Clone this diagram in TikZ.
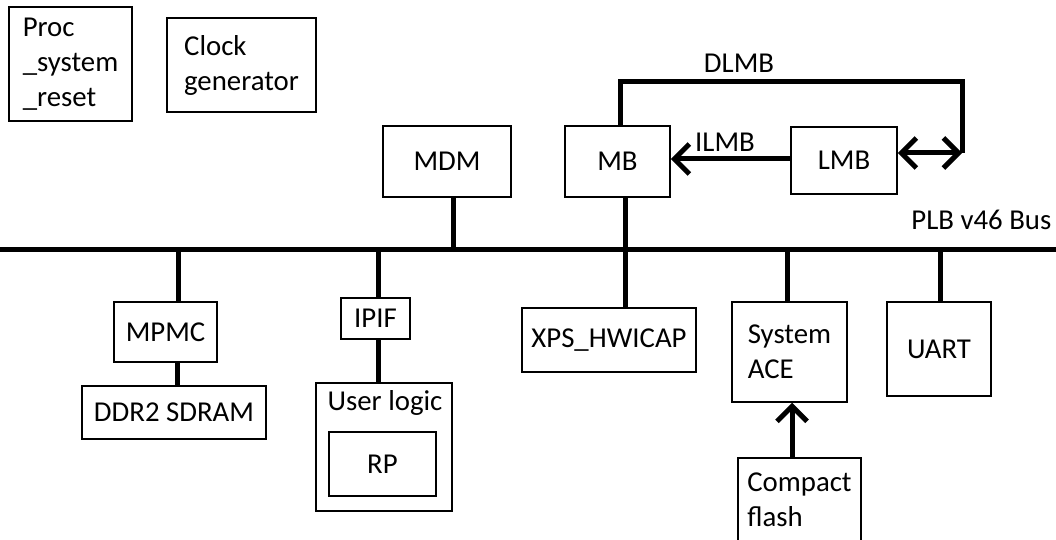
\documentclass[tikz,border=0pt]{standalone}
\usepackage{fontspec}
\setmainfont{Carlito}
\usetikzlibrary{arrows.meta}
\begin{document}
\begin{tikzpicture}[x=0.5pt,y=-0.5pt,
  box/.style={draw, line width=0.75pt, inner sep=0pt, align=left,
    font=\fontsize{14.4}{17.5}\selectfont},
  lbl/.style={inner sep=0pt, font=\fontsize{14.4}{17.5}\selectfont},
  conn/.style={line width=2.5pt},
  tip/.style={line width=2.5pt, arrows={-Straight Barb[length=7.5pt,width=15pt]}},
  dtip/.style={line width=2.5pt, arrows={Straight Barb[length=7.5pt,width=15pt]-Straight Barb[length=7.5pt,width=15pt]}}]
\useasboundingbox (0,0) rectangle (1056,540);
\fill[white] (0,0) rectangle (1056,540);

% boxes
\node[box, minimum width=61.5pt, minimum height=57pt] (proc) at (70.5,64) {Proc\\\_system\\\_reset};
\node[box, minimum width=74.5pt, minimum height=47pt] (clk) at (241.5,65) {Clock\\generator};
\node[box, minimum width=64pt, minimum height=35.5pt] (mdm) at (447,161.5) {MDM};
\node[box, minimum width=52.5pt, minimum height=35.5pt] (mb) at (617.5,161.5) {MB};
\node[box, minimum width=53pt, minimum height=33.5pt] (lmb) at (844,160.5) {LMB};
\node[box, minimum width=51.5pt, minimum height=30pt] (mpmc) at (165.5,332) {MPMC};
\node[box, minimum width=92pt, minimum height=26.5pt] (ddr) at (174,412.5) {DDR2 SDRAM};
\node[box, minimum width=34.5pt, minimum height=20.5pt] (ipif) at (375.5,318.5) {IPIF};
\node[box, minimum width=68pt, minimum height=64pt] (ul) at (384,447) {};
\node[lbl] (ultext) at (385,403) {User logic};
\node[box, minimum width=53.5pt, minimum height=32pt] (rp) at (382.5,464) {RP};
\node[box, minimum width=87pt, minimum height=32pt] (xps) at (609,340) {XPS\_HWICAP};
\node[box, minimum width=57.5pt, minimum height=50pt] (ace) at (789.5,352) {System\\ACE};
\node[box, minimum width=52pt, minimum height=47pt] (uart) at (939,349) {UART};
\node[box, minimum width=61.5pt, minimum height=42pt] (cf) at (799.5,500) {Compact\\flash};

% bus
\coordinate (busL) at (0,250);
\coordinate (busR) at (1056,250);
\draw[conn] (busL) -- (busR);
\node[lbl, anchor=west] (plb) at (911,220) {PLB v46 Bus};

% connectors to bus
\draw[conn] ([xshift=3pt]mdm.south) -- ([xshift=3pt]mdm.south |- busL);
\draw[conn] ([xshift=3.75pt]mb.south) -- ([xshift=3.75pt]mb.south |- xps.north);
\draw[conn] ([xshift=6.25pt]mpmc.north |- busL) -- ([xshift=6.25pt]mpmc.north);
\draw[conn] ([xshift=5.75pt]mpmc.south) -- ([xshift=5.75pt]mpmc.south |- ddr.north);
\draw[conn] ([xshift=1.25pt]ipif.north |- busL) -- ([xshift=1.25pt]ipif.north);
\draw[conn] ([xshift=1.25pt]ipif.south) -- ([xshift=1.25pt]ipif.south |- ul.north);
\draw[conn] ([xshift=-1.25pt]ace.north |- busL) -- ([xshift=-1.25pt]ace.north);
\draw[conn] ([xshift=0.5pt]uart.north |- busL) -- ([xshift=0.5pt]uart.north);

% Compact flash -> System ACE
\draw[tip] ([xshift=-3.75pt]cf.north) -- ([xshift=-3.75pt]cf.north |- ace.south);

% ILMB
\draw[tip] ([yshift=0.75pt]lmb.west) -- ([yshift=0.75pt]lmb.west -| mb.east);
\node[lbl] (ilmb) at (725,142) {ILMB};

% DLMB
\coordinate (dtop) at (962,82);
\coordinate (dend) at (962,153);
\draw[conn, line join=miter] ([xshift=1.25pt]mb.north) |- (dtop) -- (dend);
\draw[dtip] ([yshift=3.75pt]lmb.east) -- (dend);
\node[lbl] (dlmb) at (739,63) {DLMB};
\end{tikzpicture}
\end{document}
